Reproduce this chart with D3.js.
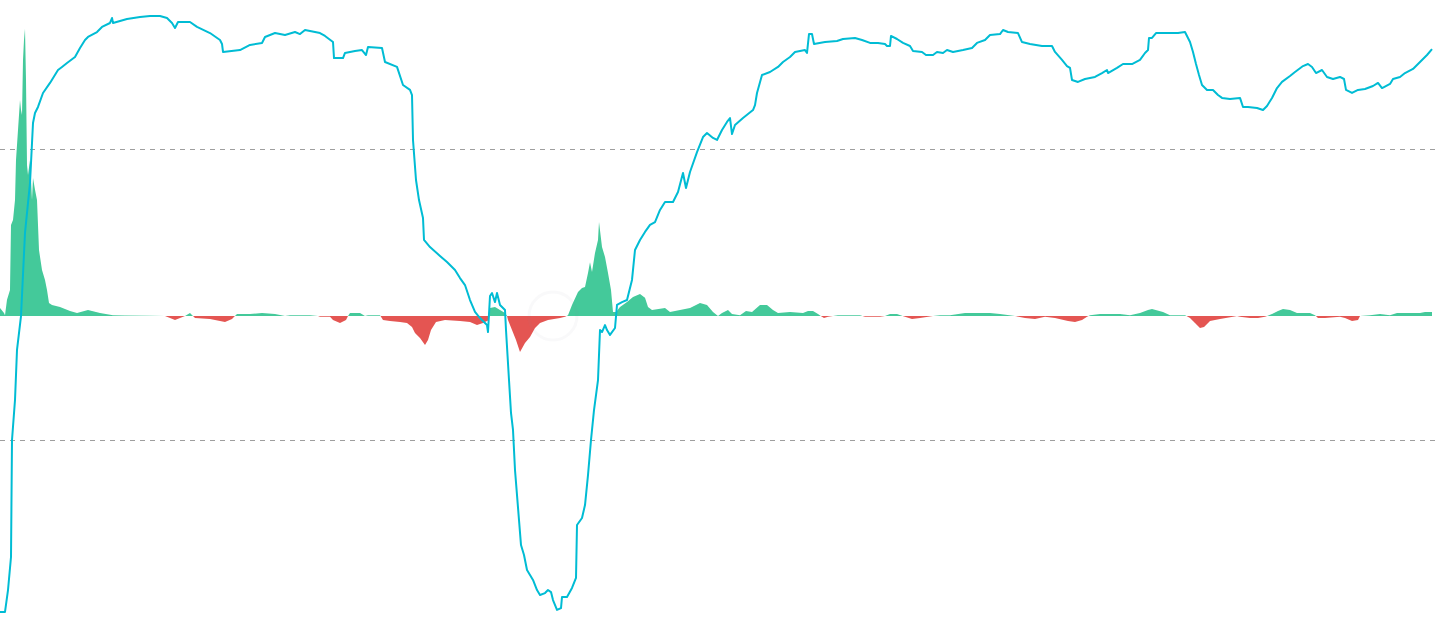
<!DOCTYPE html>
<html>
<head>
<meta charset="utf-8">
<script src="https://cdn.jsdelivr.net/npm/d3@7/dist/d3.min.js"></script>
<style>
  html, body { margin: 0; padding: 0; background: #ffffff; overflow: hidden; }
  svg { display: block; }
</style>
</head>
<body>
<svg id="chart" width="1440" height="633"></svg>
<script>
// ---------- DATA ----------
// Day index of each oscillator sample (x) and its value (signed histogram)
const histDays = [0,4,5,7,10,11,13,15,16,18,20,21,22,23,24,25,26,27,28,30,32,33,35,37,39,42,45,47,49,52,60,70,77,88,100,113,125,150,165,170,175,180,185,190,193,195,210,225,232,237,250,262,275,285,290,310,318,320,330,333,340,346,348,350,360,365,368,380,383,390,400,407,412,415,420,425,428,431,436,445,460,470,477,483,489,490,495,500,505,507,508,512,516,520,525,530,535,540,548,560,565,568,572,578,582,585,588,590,592,595,598,599,602,605,608,611,613,616,620,627,633,640,645,648,652,665,670,680,690,700,707,713,718,722,728,732,740,746,752,760,767,773,778,790,803,808,813,818,822,824,828,838,860,865,880,885,890,897,905,912,920,933,940,950,965,990,1000,1015,1025,1035,1045,1055,1068,1075,1082,1087,1090,1100,1120,1130,1140,1148,1152,1163,1170,1185,1190,1195,1200,1204,1210,1220,1233,1237,1240,1250,1258,1265,1272,1278,1283,1290,1297,1310,1315,1318,1325,1340,1345,1352,1358,1360,1370,1380,1390,1397,1410,1420,1425,1432];
const histValues = [2.8,1.0,0.3,5.6,9.0,31.6,33.3,40.3,54.2,64.6,75.0,71.5,69.8,88.9,95.8,99.7,81.9,52.4,49.0,54.2,40.3,47.9,43.8,40.3,22.9,16.0,12.5,9.0,4.5,3.8,3.1,1.7,1.0,2.1,1.0,0.3,0.2,0.1,0,-0.7,-1.4,-0.7,0,1.0,0,-0.7,-1.0,-2.1,-1.0,0.7,0.7,1.0,0.7,0,0.3,0.3,0,-0.3,-0.3,-1.4,-2.4,-1.4,0,1.0,1.0,0,0.3,0.3,-1.4,-1.7,-2.1,-2.4,-3.8,-5.9,-7.6,-10.1,-8.3,-4.9,-2.1,-1.4,-1.7,-2.1,-3.1,-2.4,-1.4,2.8,3.1,2.1,1.0,0,-1.4,-4.9,-8.3,-12.5,-9.4,-7.3,-4.2,-2.4,-1.4,-0.7,-0.3,0.3,3.8,8.3,9.7,10.1,14.9,18.7,15.3,21.9,26.4,32.6,24.0,20.5,14.9,9.0,1.4,1.4,3.1,4.9,6.6,7.6,6.3,3.1,2.1,2.8,1.4,2.1,2.8,4.5,3.8,1.4,0,1.0,2.1,0.7,0.3,1.7,1.4,3.8,3.8,2.1,1.0,1.4,1.0,1.7,1.7,0.7,-0.3,-0.7,-0.3,0.3,0.3,-0.3,-0.3,0,0.7,0.7,-0.3,-1.0,-0.7,0,0.3,0.3,1.0,1.0,0.7,0,-0.7,-1.0,-0.3,-0.7,-1.7,-2.1,-1.4,-0.3,0.3,0.7,0.7,0.3,1.0,2.1,2.4,1.4,0.3,0.3,-0.7,-2.4,-4.2,-3.8,-1.7,-1.0,-0.3,0,-0.3,-0.7,-0.7,-0.3,0.7,1.7,2.4,2.1,1.0,1.0,0.3,-0.7,-0.7,-0.3,-0.7,-1.7,-1.4,0,0.3,0.7,0.3,1.0,1.0,1.0,1.4,1.4];

// Day index of each indicator-line sample and its value (gridlines at +100 / -100)
const lineDays = [0,5,8,11,12,15,17,21,25,30,33,35,38,43,50,58,62,67,75,80,85,88,97,102,110,112,113,127,140,150,160,167,172,175,178,190,197,210,220,222,223,240,250,262,265,275,285,295,300,305,320,325,333,334,343,345,355,362,366,368,382,385,397,403,410,412,413,416,419,423,424,430,440,447,455,460,465,470,475,480,487,488,490,492,495,497,500,505,506,509,511,513,515,519,521,524,527,533,537,540,545,548,551,553,557,561,562,567,572,576,577,582,585,588,591,594,598,600,602,605,607,610,615,617,622,627,632,635,640,645,650,655,660,665,673,678,683,686,690,697,703,707,713,717,722,727,730,732,735,743,753,755,757,762,770,778,783,790,795,805,807,809,812,814,825,837,843,855,862,870,878,885,887,890,891,897,903,910,913,922,926,933,937,943,947,953,963,972,977,985,990,1000,1003,1008,1018,1022,1030,1042,1052,1055,1062,1067,1070,1072,1078,1085,1095,1102,1107,1108,1117,1123,1132,1140,1145,1148,1149,1152,1156,1167,1178,1185,1190,1193,1196,1199,1202,1207,1213,1218,1222,1230,1240,1243,1248,1257,1263,1267,1272,1277,1282,1290,1295,1303,1308,1312,1316,1322,1327,1333,1340,1344,1346,1352,1358,1365,1373,1378,1382,1384,1390,1393,1400,1405,1413,1420,1427,1432];
const lineValues = [-218.2,-218.2,-203.1,-180.4,-100,-72.5,-38.1,-14.8,42.3,76.6,117.9,124.7,128.9,138.5,145.4,154.3,156.4,159.1,163.2,169.4,174.9,177.0,180.4,183.9,186.6,190.0,186.6,189.4,190.7,191.4,191.4,190.0,186.6,183.2,187.3,187.3,183.9,179.7,174.9,172.2,166.7,168.0,171.5,172.9,177.0,179.7,178.4,180.4,179.0,181.8,179.7,177.7,173.5,162.5,162.5,166.0,167.4,168.0,164.6,170.1,169.4,159.8,156.4,144.0,140.6,137.1,106.2,78.7,64.9,52.6,37.5,32.6,26.5,22.3,16.8,11.3,6.5,-3.8,-12.0,-16.2,-21.0,-25.8,-1.0,1.0,-5.2,1.0,-7.2,-10.7,-24.4,-58.8,-81.4,-93.1,-120.6,-155.0,-172.2,-179.0,-189.3,-196.2,-203.1,-206.5,-205.2,-203.1,-204.5,-210.0,-216.8,-215.5,-207.9,-207.9,-201.7,-194.8,-158.4,-153.6,-144.7,-124.1,-100,-79.4,-58.8,-24.4,-25.8,-21.0,-24.4,-27.8,-23.0,-7.2,-5.2,-3.8,10.0,30.6,37.5,43.0,47.8,49.8,58.1,63.6,63.6,70.4,83.5,73.2,84.2,97.9,108.2,111.0,107.6,106.2,113.1,118.6,121.3,110.3,116.5,121.3,126.8,130.2,138.5,150.9,152.9,156.4,159.8,163.2,166.7,168.0,166.0,179.0,179.0,172.2,173.5,174.2,175.6,176.3,174.9,172.9,172.9,172.2,170.8,170.8,177.7,175.6,172.9,170.8,167.4,166.7,164.6,164.6,166.7,166.0,168.0,166.7,168.0,169.4,172.9,174.9,178.4,179.0,181.8,180.4,179.7,173.5,172.2,170.8,170.8,166.7,161.2,157.0,155.7,147.4,146.1,148.1,149.5,152.2,154.3,152.2,155.7,158.4,158.4,161.2,166.0,168.0,176.3,176.3,179.7,179.7,179.7,180.4,173.5,166.7,158.4,150.9,144.0,140.6,140.6,137.1,135.1,134.4,135.1,128.9,128.9,128.2,126.8,129.6,135.1,141.9,146.1,150.2,152.9,157.0,158.4,156.4,152.2,154.3,149.5,148.1,149.5,148.1,140.6,138.5,140.6,141.2,143.3,145.4,141.9,142.6,144.7,148.1,149.5,152.2,155.0,159.8,164.6,168.7];

const gridValues = [100, -100];

// ---------- CHART ----------
const W = 1440, H = 633;
const svg = d3.select("#chart");

const x = d3.scaleLinear().domain([0, 1432]).range([0, 1432]);
const yLine = d3.scaleLinear().domain([-100, 100]).range([440, 149]);
const yHist = d3.scaleLinear().domain([0, 100]).range([316, 28]);

const hist = histDays.map((d, i) => ({ d, v: histValues[i] }));
const line = lineDays.map((d, i) => ({ d, v: lineValues[i] }));

// gridlines
svg.append("g").selectAll("line").data(gridValues).join("line")
  .attr("x1", 0).attr("x2", 1436)
  .attr("y1", d => Math.round(yLine(d)) + 0.5).attr("y2", d => Math.round(yLine(d)) + 0.5)
  .attr("stroke", "#9e9e9e").attr("stroke-width", 1).attr("stroke-dasharray", "5,5");

// clip regions above/below zero of histogram
const zeroY = yHist(0);
const defs = svg.append("defs");
defs.append("clipPath").attr("id", "clipUp").append("rect")
  .attr("x", 0).attr("y", 0).attr("width", W).attr("height", zeroY);
defs.append("clipPath").attr("id", "clipDown").append("rect")
  .attr("x", 0).attr("y", zeroY).attr("width", W).attr("height", H - zeroY);

const area = d3.area()
  .x(d => x(d.d))
  .y0(zeroY)
  .y1(d => yHist(d.v));

svg.append("path").datum(hist)
  .attr("d", area).attr("fill", "#44c99a").attr("clip-path", "url(#clipUp)");
svg.append("path").datum(hist)
  .attr("d", area).attr("fill", "#e45552").attr("clip-path", "url(#clipDown)");

// faint watermark
const wm = svg.append("g").attr("opacity", 0.05);
wm.append("circle").attr("cx", 553).attr("cy", 316).attr("r", 24)
  .attr("fill", "none").attr("stroke", "#8a8a9a").attr("stroke-width", 3);

// indicator line
const lineGen = d3.line().x(d => x(d.d)).y(d => yLine(d.v));
svg.append("path").datum(line)
  .attr("d", lineGen)
  .attr("fill", "none")
  .attr("stroke", "#00bcd4")
  .attr("stroke-width", 2)
  .attr("stroke-linejoin", "round");
</script>
</body>
</html>
